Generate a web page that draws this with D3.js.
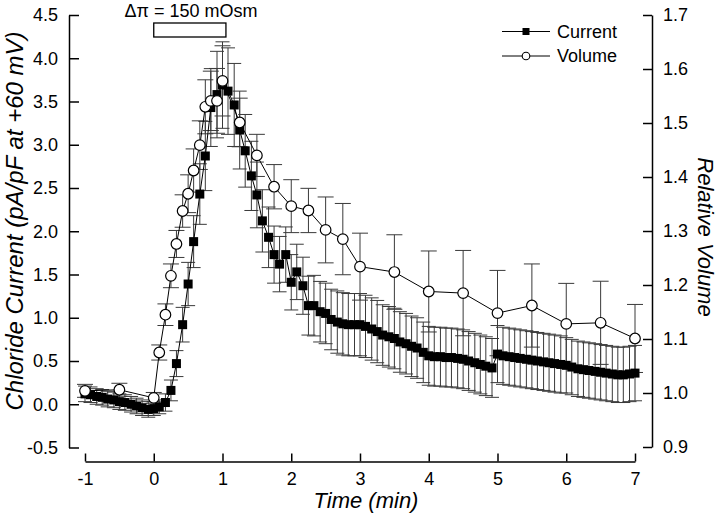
<!DOCTYPE html>
<html><head><meta charset="utf-8">
<script src="https://cdn.jsdelivr.net/npm/d3@7/dist/d3.min.js"></script>
<style>
html,body{margin:0;padding:0;background:#fff;}
text{font-family:"Liberation Sans",Arial,sans-serif;fill:#000;}
</style></head>
<body>
<svg id="chart" width="720" height="522"></svg>
<script>
// ---- data ----
const xTicks = [-1, 0, 1, 2, 3, 4, 5, 6, 7];
const leftTicks = [-0.5, 0, 0.5, 1, 1.5, 2, 2.5, 3, 3.5, 4, 4.5];
const rightTicks = [0.9, 1.0, 1.1, 1.2, 1.3, 1.4, 1.5, 1.6, 1.7];
const stimulus = [0, 1.05];
const stimulusLabel = "\u0394\u03c0 = 150 mOsm";

const currentTime = [-1, -0.92, -0.83, -0.75, -0.67, -0.58, -0.5, -0.42, -0.33, -0.25, -0.17, -0.08,
  0, 0.08, 0.17, 0.25, 0.33, 0.42, 0.5, 0.58, 0.67, 0.75, 0.83, 0.92,
  1, 1.08, 1.17, 1.25, 1.33, 1.42, 1.5, 1.58, 1.67, 1.75, 1.83, 1.92,
  2, 2.08, 2.17, 2.25, 2.33, 2.42, 2.5, 2.58, 2.67, 2.75, 2.83, 2.92,
  3, 3.08, 3.17, 3.25, 3.33, 3.42, 3.5, 3.58, 3.67, 3.75, 3.83, 3.92,
  4, 4.08, 4.17, 4.25, 4.33, 4.42, 4.5, 4.58, 4.67, 4.75, 4.83, 4.92,
  5, 5.08, 5.17, 5.25, 5.33, 5.42, 5.5, 5.58, 5.67, 5.75, 5.83, 5.92,
  6, 6.08, 6.17, 6.25, 6.33, 6.42, 6.5, 6.58, 6.67, 6.75, 6.83, 6.92,
  7];
const currentValue = [0.12, 0.11, 0.09, 0.08, 0.06, 0.05, 0.03, 0.02, 0.00, -0.02, -0.04, -0.06,
  -0.05, -0.03, 0.02, 0.16, 0.47, 0.92, 1.39, 1.88, 2.43, 2.87, 3.43, 3.58,
  3.69, 3.62, 3.46, 3.17, 2.93, 2.64, 2.42, 2.12, 1.93, 1.73, 1.62, 1.73,
  1.41, 1.53, 1.37, 1.14, 1.14, 1.07, 1.05, 0.98, 0.95, 0.93, 0.92, 0.92,
  0.92, 0.90, 0.87, 0.84, 0.80, 0.78, 0.76, 0.72, 0.70, 0.67, 0.65, 0.60,
  0.56, 0.55, 0.55, 0.54, 0.54, 0.53, 0.52, 0.50, 0.48, 0.46, 0.44, 0.42,
  0.58, 0.56, 0.55, 0.54, 0.53, 0.52, 0.51, 0.50, 0.49, 0.48, 0.47, 0.46,
  0.45, 0.43, 0.41, 0.40, 0.39, 0.38, 0.37, 0.36, 0.35, 0.34, 0.34, 0.35,
  0.36];
const currentSem = [0.09, 0.09, 0.09, 0.09, 0.09, 0.09, 0.09, 0.09, 0.09, 0.09, 0.09, 0.09,
  0.08, 0.08, 0.10, 0.12, 0.15, 0.20, 0.25, 0.30, 0.35, 0.40, 0.45, 0.50,
  0.50, 0.50, 0.48, 0.45, 0.42, 0.40, 0.38, 0.36, 0.35, 0.33, 0.32, 0.32,
  0.32, 0.32, 0.33, 0.34, 0.35, 0.35, 0.35, 0.35, 0.36, 0.36, 0.36, 0.36,
  0.36, 0.36, 0.36, 0.36, 0.35, 0.35, 0.35, 0.35, 0.35, 0.35, 0.35, 0.35,
  0.34, 0.34, 0.34, 0.34, 0.34, 0.34, 0.34, 0.34, 0.34, 0.34, 0.34, 0.34,
  0.33, 0.33, 0.33, 0.33, 0.33, 0.33, 0.33, 0.33, 0.33, 0.33, 0.33, 0.33,
  0.32, 0.32, 0.32, 0.32, 0.32, 0.32, 0.32, 0.32, 0.32, 0.32, 0.32, 0.32,
  0.32];

const volumeTime = [-1, -0.5, 0, 0.08, 0.17, 0.25, 0.33, 0.42, 0.5, 0.58, 0.67, 0.75, 0.83, 0.92, 1.0,
  1.25, 1.5, 1.75, 2.0, 2.25, 2.5, 2.75, 3.0, 3.5, 4.0, 4.5, 5.0, 5.5, 6.0, 6.5, 7.0];
const volumeValue = [1.004, 1.006, 0.991, 1.075, 1.145, 1.217, 1.276, 1.337, 1.369, 1.412, 1.459, 1.530, 1.541, 1.541, 1.578,
  1.501, 1.440, 1.382, 1.346, 1.338, 1.302, 1.285, 1.234, 1.224, 1.188, 1.185, 1.148, 1.162, 1.128, 1.130, 1.101];
const volumeSem = [0.012, 0.012, 0.010, 0.014, 0.020, 0.022, 0.025, 0.030, 0.035, 0.040, 0.045, 0.050, 0.055, 0.060, 0.065,
  0.045, 0.039, 0.041, 0.049, 0.041, 0.061, 0.066, 0.062, 0.069, 0.075, 0.079, 0.079, 0.077, 0.075, 0.077, 0.063];

const seriesNames = ["Current", "Volume"];

// ---- build ----
const current = currentTime.map((t, i) => ({t, v: currentValue[i], e: currentSem[i]}));
const volume = volumeTime.map((t, i) => ({t, v: volumeValue[i], e: volumeSem[i]}));

const svg = d3.select("#chart");
const x = d3.scaleLinear().domain([-1, 7]).range([85, 635]);
const yL = d3.scaleLinear().domain([-0.5, 4.5]).range([447.5, 15]);
const yR = d3.scaleLinear().domain([0.9, 1.7]).range([447, 15]);

const FS = 18;
// axes
const gL = svg.append("g").attr("transform", "translate(69,0)")
  .call(d3.axisLeft(yL).tickValues(leftTicks).tickFormat(d => d.toFixed(1))
    .tickSizeInner(-10).tickSizeOuter(0).tickPadding(11));
const gR = svg.append("g").attr("transform", "translate(652,0)")
  .call(d3.axisRight(yR).tickValues(rightTicks).tickFormat(d => d.toFixed(1))
    .tickSizeInner(-9).tickSizeOuter(0).tickPadding(11));
const gB = svg.append("g").attr("transform", "translate(0,461.5)")
  .call(d3.axisBottom(x).tickValues(xTicks).tickFormat(d => String(d))
    .tickSizeInner(-8).tickSizeOuter(0).tickPadding(11));
[gL, gR, gB].forEach(g => {
  g.selectAll("path.domain").attr("stroke", "#000").attr("stroke-width", 1.5);
  g.selectAll(".tick line").attr("stroke", "#000").attr("stroke-width", 1.5);
  g.selectAll(".tick text").attr("font-size", FS).attr("font-family", "'Liberation Sans',Arial,sans-serif").attr("fill", "#000");
});

// axis titles
svg.append("text").attr("transform", "translate(14,221) rotate(-90)")
  .attr("text-anchor", "middle").attr("dominant-baseline", "central")
  .attr("font-size", 24).attr("font-style", "italic")
  .text("Chloride Current (pA/pF at +60 mV)");
svg.append("text").attr("transform", "translate(705,237) rotate(90)")
  .attr("text-anchor", "middle").attr("dominant-baseline", "central")
  .attr("font-size", 22).attr("font-style", "italic")
  .text("Relative Volume");
svg.append("text").attr("x", 366).attr("y", 508)
  .attr("text-anchor", "middle").attr("font-size", 22).attr("font-style", "italic")
  .text("Time (min)");

// stimulus bar
svg.append("text").attr("x", 191).attr("y", 16.5).attr("text-anchor", "middle")
  .attr("font-size", 18).text(stimulusLabel);
svg.append("rect").attr("x", x(stimulus[0])).attr("y", 23)
  .attr("width", x(stimulus[1]) - x(stimulus[0])).attr("height", 14)
  .attr("fill", "#fff").attr("stroke", "#000").attr("stroke-width", 1.3);

// error bars
function errorBars(data, y, cap, cls) {
  const g = svg.append("g").attr("class", cls).attr("stroke", "#3a3a3a").attr("stroke-width", 1).attr("fill", "none");
  data.forEach(d => {
    const xp = x(d.t), y1 = y(d.v + d.e), y0 = y(d.v - d.e);
    g.append("line").attr("x1", xp).attr("x2", xp).attr("y1", y1).attr("y2", y0);
    g.append("line").attr("x1", xp - cap / 2).attr("x2", xp + cap / 2).attr("y1", y1).attr("y2", y1);
    g.append("line").attr("x1", xp - cap / 2).attr("x2", xp + cap / 2).attr("y1", y0).attr("y2", y0);
  });
}
errorBars(current, yL, 14, "cur-err");
errorBars(volume, yR, 16, "vol-err");

// current line + squares
svg.append("path").datum(current)
  .attr("d", d3.line().x(d => x(d.t)).y(d => yL(d.v)))
  .attr("fill", "none").attr("stroke", "#000").attr("stroke-width", 1);
const SQ = 9;
svg.append("g").selectAll("rect").data(current).join("rect")
  .attr("x", d => x(d.t) - SQ / 2).attr("y", d => yL(d.v) - SQ / 2)
  .attr("width", SQ).attr("height", SQ).attr("fill", "#000");

// volume line + circles
svg.append("path").datum(volume)
  .attr("d", d3.line().x(d => x(d.t)).y(d => yR(d.v)))
  .attr("fill", "none").attr("stroke", "#000").attr("stroke-width", 1);
svg.append("g").selectAll("circle").data(volume).join("circle")
  .attr("cx", d => x(d.t)).attr("cy", d => yR(d.v)).attr("r", 5.3)
  .attr("fill", "#fff").attr("stroke", "#000").attr("stroke-width", 1.2);

// legend
const lg = svg.append("g");
seriesNames.forEach((name, i) => {
  const cy = 31.5 + i * 24.5;
  lg.append("line").attr("x1", 502).attr("x2", 550).attr("y1", cy).attr("y2", cy)
    .attr("stroke", "#000").attr("stroke-width", 1);
  if (i === 0) {
    lg.append("rect").attr("x", 522.5).attr("y", cy - 3.5).attr("width", 7).attr("height", 7).attr("fill", "#000");
  } else {
    lg.append("circle").attr("cx", 526).attr("cy", cy).attr("r", 3.8)
      .attr("fill", "#fff").attr("stroke", "#000").attr("stroke-width", 1.1);
  }
  lg.append("text").attr("x", 557).attr("y", cy).attr("dominant-baseline", "central")
    .attr("font-size", 18).text(name);
});
</script>
</body></html>
